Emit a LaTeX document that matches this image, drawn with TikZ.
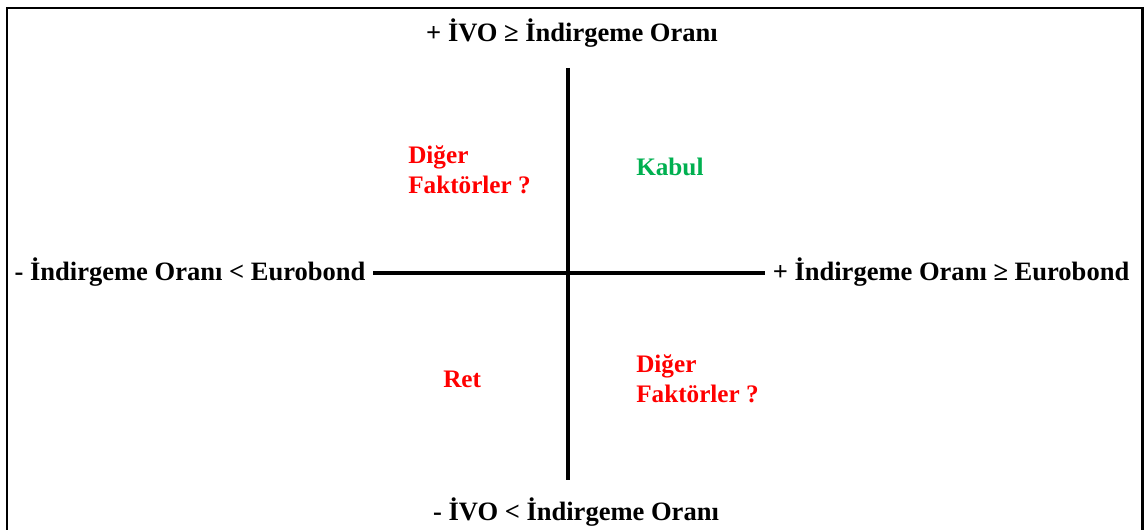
\documentclass[tikz,border=0pt]{standalone}
\usepackage{fontspec}
\setmainfont{Liberation Serif}
\definecolor{kabulgreen}{RGB}{0,176,80}
\begin{document}
\begin{tikzpicture}[x=0.75pt, y=-0.75pt,
  quadframe/.style = {line width=2.2pt, black},
  quadaxis/.style = {line width=3.6pt, black},
  quadlbl/.style = {font=\bfseries\fontsize{19.9}{24}\selectfont, inner sep=0pt},
  quadred/.style = {font=\bfseries\fontsize{18.9}{22.5}\selectfont, text=red, align=left, inner sep=0pt, anchor=west},
  quadgreen/.style = {font=\bfseries\fontsize{18.9}{22.5}\selectfont, text=kabulgreen, inner sep=0pt, anchor=west}
]
  \useasboundingbox (0,0) rectangle (1144,530);
  % cerceve
  \draw[quadframe] (7,545) -- (7,8) -- (1142.5,8) -- (1142.5,545);
  % eksen uclari
  \coordinate (ytop) at (568,68);
  \coordinate (ybot) at (568,480);
  \coordinate (xleft) at (373,273);
  \coordinate (xright) at (765,273);
  \draw[quadaxis] (ytop) -- (ybot);
  \draw[quadaxis] (xleft) -- (xright);
  % eksen etiketleri
  \node[quadlbl] (ivoup) at (572,33) {+ İVO ≥ İndirgeme Oranı};
  \node[quadlbl] (ivodown) at (576,512) {- İVO < İndirgeme Oranı};
  \node[quadlbl] (oranleft) at (190,272) {- İndirgeme Oranı < Eurobond};
  \node[quadlbl] (oranright) at (951,272) {+ İndirgeme Oranı ≥ Eurobond};
  % bolgeler
  \node[quadred] (digerul) at (408,170) {Diğer\\Faktörler ?};
  \node[quadgreen] (kabul) at (636,167) {Kabul};
  \node[quadred] (ret) at (443,379) {Ret};
  \node[quadred] (digerlr) at (636,379) {Diğer\\Faktörler ?};
\end{tikzpicture}
\end{document}
